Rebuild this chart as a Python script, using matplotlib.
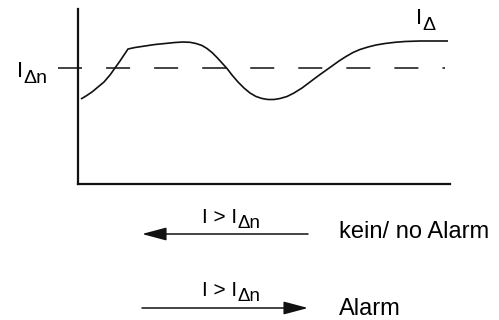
import matplotlib
matplotlib.use("Agg")
import matplotlib.pyplot as plt
from matplotlib.patches import ArrowStyle

plt.rcParams['font.family'] = ['Liberation Sans', 'DejaVu Sans']
plt.rcParams['lines.scale_dashes'] = False

# residual current curve I_delta over time (arbitrary units)
t = [3, 8, 14, 20, 26, 32, 37, 42, 46, 50, 57, 67, 77, 87, 97, 105, 112, 118, 124,
     129, 134, 139, 144, 149, 154, 160, 166, 172, 178, 184, 190, 196, 202, 209, 216,
     224, 232, 240, 247, 254, 261, 268, 275, 282, 290, 298, 307, 317, 327, 342, 357, 370]
i_delta = [85, 88, 92, 97, 102, 109, 116, 123, 129, 135, 136.5, 138, 139.5, 140.5,
           141.5, 142, 141.7, 140.5, 138.5, 135.5, 131.5, 126.5, 121, 115.5, 109, 102,
           96, 91, 87.5, 85.5, 84.5, 84.5, 85.5, 87.5, 91, 96, 102, 108, 113, 118, 123,
           127.5, 131.5, 134.5, 137, 139, 140.5, 141.7, 142.5, 143, 143, 143]
i_dn = 116          # rated residual current threshold
dash_start, dash_end = -20, 367

main_label = 'I > I'
sub_label = 'Δn'
texts = ['kein/ no Alarm', 'Alarm']

fig = plt.figure(figsize=(4.99, 3.2), dpi=100)

ax = fig.add_axes([78 / 499, 1 - 184 / 320, 372 / 499, 175 / 320])
ax.set_xlim(0, 372)
ax.set_ylim(0, 175)
ax.plot(t, i_delta, color='#111111', lw=1.2, solid_capstyle='butt')
ax.plot([dash_start, dash_end], [i_dn, i_dn], color='#111111', lw=1.1,
        linestyle=(0, (17.3, 17.3)), clip_on=False)
for s in ['top', 'right']:
    ax.spines[s].set_visible(False)
for s in ['left', 'bottom']:
    ax.spines[s].set_linewidth(1.6)
    ax.spines[s].set_color('#111111')
ax.set_xticks([])
ax.set_yticks([])

# overlay in pixel-like coordinates for labels and arrows
ov = fig.add_axes([0, 0, 1, 1], facecolor='none')
ov.set_xlim(0, 499)
ov.set_ylim(320, 0)
ov.axis('off')

# I_dn on the left, I_delta top right
ov.text(17, 77, 'I', fontsize=16, va='baseline', ha='left')
ov.text(23, 83, sub_label, fontsize=14, va='baseline', ha='left')
ov.text(416, 24, 'I', fontsize=16, va='baseline', ha='left')
ov.text(422, 30, 'Δ', fontsize=14, va='baseline', ha='left')

style = ArrowStyle('-|>', head_length=15, head_width=4)
ov.annotate('', xy=(142, 234), xytext=(308, 234),
            arrowprops=dict(arrowstyle=style, mutation_scale=1, lw=1.1,
                            color='#111111', shrinkA=0, shrinkB=0))
ov.annotate('', xy=(308, 308), xytext=(142, 308),
            arrowprops=dict(arrowstyle=style, mutation_scale=1, lw=1.1,
                            color='#111111', shrinkA=0, shrinkB=0))

for base in [223, 296]:
    ov.text(237, base, main_label, fontsize=15, ha='right', va='baseline')
    ov.text(238, base + 5, sub_label, fontsize=13.5, ha='left', va='baseline')

ov.text(339, 238, texts[0], fontsize=17, ha='left', va='baseline')
ov.text(339, 315, texts[1], fontsize=17, ha='left', va='baseline')

fig.savefig('out.png', dpi=100)
